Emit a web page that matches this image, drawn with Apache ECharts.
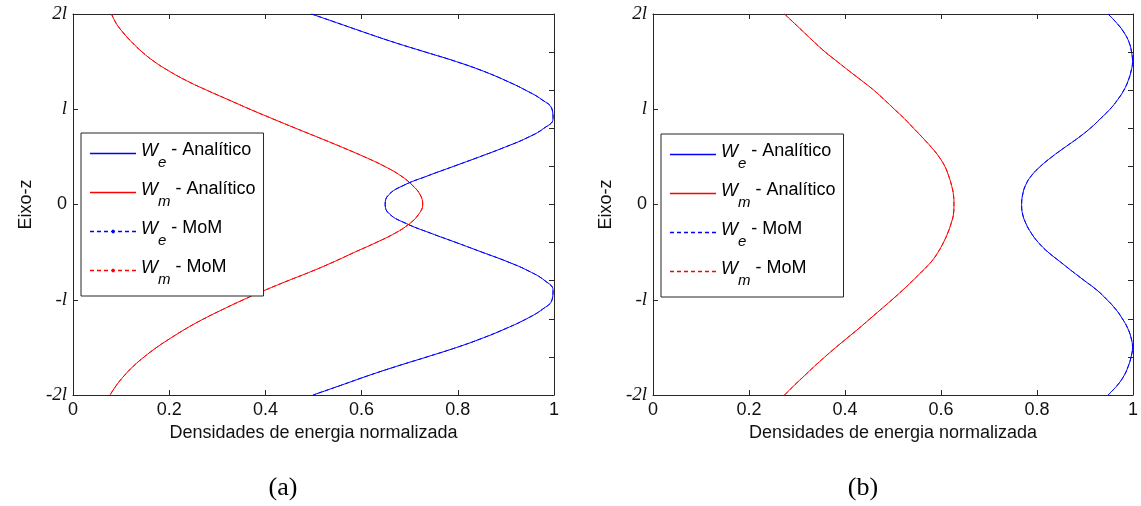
<!DOCTYPE html>
<html>
<head>
<meta charset="utf-8">
<script src="https://cdn.jsdelivr.net/npm/echarts/dist/echarts.min.js"></script>
<style>
  html, body { margin: 0; padding: 0; background: #fff; }
  #chart { width: 1141px; height: 506px; }
</style>
</head>
<body>
<div id="chart"></div>
<script>
// eixo z, em unidades de l (de 2l ate -2l)
var zVals = [2.0, 1.9, 1.8, 1.7, 1.6, 1.5, 1.4, 1.3, 1.2, 1.1, 1.0, 0.9, 0.8, 0.7, 0.6, 0.5, 0.4, 0.3, 0.2, 0.1, 0.0,
             -0.1, -0.2, -0.3, -0.4, -0.5, -0.6, -0.7, -0.8, -0.9, -1.0, -1.1, -1.2, -1.3, -1.4, -1.5, -1.6, -1.7, -1.8, -1.9, -2.0];

// (a)
var weA = [0.496, 0.553, 0.610, 0.669, 0.733, 0.797, 0.853, 0.900, 0.941, 0.975, 0.996, 0.998, 0.979, 0.944, 0.897, 0.845, 0.791, 0.737, 0.687, 0.656, 0.649,
           0.658, 0.693, 0.743, 0.797, 0.850, 0.903, 0.948, 0.981, 0.998, 0.996, 0.976, 0.943, 0.901, 0.853, 0.798, 0.736, 0.672, 0.612, 0.556, 0.499];
var wmA = [0.080, 0.090, 0.105, 0.123, 0.144, 0.169, 0.200, 0.236, 0.278, 0.323, 0.368, 0.415, 0.463, 0.512, 0.560, 0.606, 0.648, 0.682, 0.706, 0.722, 0.727,
           0.719, 0.700, 0.670, 0.630, 0.586, 0.543, 0.497, 0.447, 0.399, 0.354, 0.312, 0.272, 0.236, 0.204, 0.174, 0.148, 0.125, 0.106, 0.090, 0.077];

// (b)
var weB = [0.948, 0.967, 0.982, 0.992, 0.997, 0.999, 0.996, 0.990, 0.981, 0.968, 0.952, 0.932, 0.911, 0.886, 0.858, 0.831, 0.807, 0.788, 0.776, 0.770, 0.768,
           0.770, 0.777, 0.788, 0.803, 0.823, 0.848, 0.873, 0.899, 0.925, 0.946, 0.964, 0.978, 0.989, 0.996, 0.999, 0.996, 0.990, 0.981, 0.967, 0.948];
var wmB = [0.274, 0.295, 0.316, 0.337, 0.359, 0.384, 0.409, 0.435, 0.460, 0.482, 0.503, 0.524, 0.543, 0.562, 0.580, 0.596, 0.608, 0.616, 0.622, 0.626, 0.627,
           0.626, 0.621, 0.614, 0.605, 0.594, 0.580, 0.561, 0.541, 0.520, 0.498, 0.475, 0.452, 0.429, 0.405, 0.381, 0.358, 0.336, 0.315, 0.294, 0.274];

var yTickVals = [-2, -1, 0, 1, 2];
var yTickText = ['-2l', '-l', '0', 'l', '2l'];
var seriesNames = ['We - Analítico', 'Wm - Analítico', 'We - MoM', 'Wm - MoM'];
var seriesColors = ['#0000ff', '#ff0000', '#0000ff', '#ff0000'];
var panelTags = ['(a)', '(b)'];

var AXIS = '#262626';
var DASH = [4, 3];
var ICON_W = 46, ICON_H = 4;

function pairs(xs) {
    return xs.map(function (x, i) { return [x, zVals[i]]; });
}

// icone da legenda como caminho preenchido (linha cheia ou tracejada)
function iconPath(dashed, dot) {
    var p = 'path://M0,0h0.01v0.01h-0.01z';                 // fixa a caixa 46x4
    p += 'M' + (ICON_W - 0.01) + ',' + (ICON_H - 0.01) + 'h0.01v0.01h-0.01z';
    if (!dashed) {
        p += 'M0,1.2h' + ICON_W + 'v1.6h-' + ICON_W + 'z';
    } else {
        for (var x = 0; x < ICON_W; x += DASH[0] + DASH[1]) {
            p += 'M' + x + ',1.2h' + DASH[0] + 'v1.6h-' + DASH[0] + 'z';
        }
        if (dot) p += 'M22,0.3h2.4v3.4h-2.4z';
    }
    return p;
}

function legendText(name) {
    // "We - Analítico" -> W italico com subscrito
    return '{w|W}{s|' + name.charAt(1) + '}{t|' + name.slice(2) + '}';
}

var legendRich = {
    w: { fontFamily: 'Liberation Sans', fontStyle: 'italic', fontSize: 18, color: '#000', lineHeight: 28, padding: [0, 0, 6, 0] },
    s: { fontFamily: 'Liberation Sans', fontStyle: 'italic', fontSize: 15, color: '#000', lineHeight: 28, padding: [18, 0, 0, 0] },
    t: { fontFamily: 'Liberation Sans', fontSize: 18, color: '#000', lineHeight: 28, padding: [0, 0, 6, 0] }
};

function makeLegend(left, top, dotted) {
    return {
        orient: 'vertical',
        left: left,
        top: top,
        itemWidth: ICON_W,
        itemHeight: ICON_H,
        itemGap: 6,
        padding: [4, 8, 9, 9],
        backgroundColor: '#fff',
        borderColor: AXIS,
        borderWidth: 1,
        borderRadius: 0,
        selectedMode: false,
        symbolKeepAspect: false,
        data: seriesNames.map(function (n, i) {
            return {
                name: n,
                icon: iconPath(i > 1, dotted),
                itemStyle: { color: seriesColors[i], opacity: 1, borderWidth: 0 }
            };
        }),
        formatter: legendText,
        textStyle: { rich: legendRich }
    };
}

function xAxes(gridIndex) {
    return [{
        gridIndex: gridIndex, type: 'value', position: 'bottom',
        min: 0, max: 1, interval: 0.2,
        name: 'Densidades de energia normalizada',
        nameLocation: 'middle', nameGap: 29,
        nameTextStyle: { fontFamily: 'Liberation Sans', fontSize: 18, color: '#111' },
        axisLine: { show: true, onZero: false, lineStyle: { color: AXIS, width: 1 } },
        axisTick: { show: true, inside: true, length: 5, lineStyle: { color: AXIS } },
        axisLabel: { show: true, margin: 6, fontFamily: 'Liberation Sans', fontSize: 18, color: '#111',
                     showMinLabel: true, showMaxLabel: true },
        splitLine: { show: false }
    }, {
        gridIndex: gridIndex, type: 'value', position: 'top',
        min: 0, max: 1, interval: 0.2,
        axisLine: { show: true, onZero: false, lineStyle: { color: AXIS, width: 1 } },
        axisTick: { show: true, inside: true, length: 5, lineStyle: { color: AXIS } },
        axisLabel: { show: false },
        splitLine: { show: false }
    }];
}

function yAxes(gridIndex) {
    return [{
        gridIndex: gridIndex, type: 'value', position: 'left',
        min: -2, max: 2, interval: 1,
        name: 'Eixo-z', nameLocation: 'middle', nameGap: 38, nameRotate: 90,
        nameTextStyle: { fontFamily: 'Liberation Sans', fontSize: 18, color: '#111' },
        axisLine: { show: true, onZero: false, lineStyle: { color: AXIS, width: 1 } },
        axisTick: { show: true, inside: true, length: 5, lineStyle: { color: AXIS } },
        axisLabel: {
            show: true, margin: 6, showMinLabel: true, showMaxLabel: true,
            formatter: function (v) {
                var t = yTickText[yTickVals.indexOf(v)];
                return v === 0 ? '{n|' + t + '}' : '{i|' + t + '}';
            },
            rich: {
                n: { fontFamily: 'Liberation Sans', fontSize: 18, color: '#111' },
                i: { fontFamily: 'Liberation Serif', fontStyle: 'italic', fontSize: 19, color: '#111' }
            }
        },
        splitLine: { show: false }
    }, {
        gridIndex: gridIndex, type: 'value', position: 'right',
        min: -2, max: 2, interval: 0.4,
        axisLine: { show: true, onZero: false, lineStyle: { color: AXIS, width: 1 } },
        axisTick: { show: true, inside: true, length: 5, lineStyle: { color: AXIS } },
        axisLabel: { show: false },
        splitLine: { show: false }
    }];
}

function curves(axisIndex, we, wm) {
    var data = [we, wm, we, wm];
    return seriesNames.map(function (n, i) {
        return {
            type: 'line', name: n,
            xAxisIndex: axisIndex, yAxisIndex: axisIndex,
            smooth: 0.45, symbol: 'none', silent: true,
            data: pairs(data[i]),
            itemStyle: { color: seriesColors[i] },
            lineStyle: { color: seriesColors[i], width: 1, type: i > 1 ? DASH : 'solid' }
        };
    });
}

var chart = echarts.init(document.getElementById('chart'), null, { renderer: 'canvas' });

var option = {
    backgroundColor: '#fff',
    animation: false,
    grid: [
        { left: 73, top: 14, width: 481, height: 381 },
        { left: 653, top: 14, width: 482, height: 381 }
    ],
    xAxis: xAxes(0).concat(xAxes(1)),
    yAxis: yAxes(0).concat(yAxes(1)),
    legend: [makeLegend(81, 133, true), makeLegend(661, 134, false)],
    series: curves(0, weA, wmA).concat(curves(2, weB, wmB)),
    graphic: [
        { type: 'text', x: 283, y: 488, style: { text: panelTags[0], fontFamily: 'Liberation Serif', fontSize: 26, fill: '#000', align: 'center', verticalAlign: 'middle' } },
        { type: 'text', x: 863, y: 488, style: { text: panelTags[1], fontFamily: 'Liberation Serif', fontSize: 26, fill: '#000', align: 'center', verticalAlign: 'middle' } }
    ]
};

chart.setOption(option);
window.addEventListener('resize', function () { chart.resize(); });
</script>
</body>
</html>
